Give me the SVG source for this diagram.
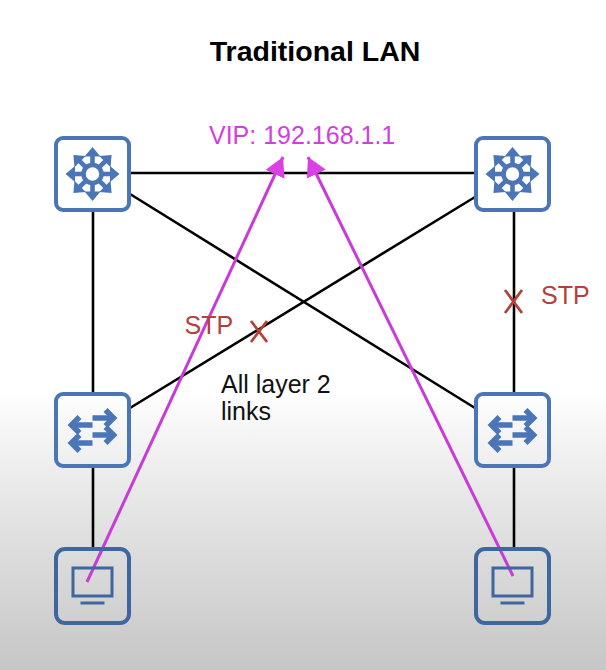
<svg xmlns="http://www.w3.org/2000/svg" xmlns:xlink="http://www.w3.org/1999/xlink" width="606" height="670" viewBox="0 0 606 670">
<style>
text{font-family:"Liberation Sans",Arial,sans-serif}
.box{fill:none;stroke:#4a76b8;stroke-width:4}
.boxd{fill:none;stroke:#3f669f;stroke-width:4}
.thin{fill:none;stroke:#3f669f;stroke-width:3}
.ic{fill:none;stroke:#4a76b8;stroke-width:4.6}
.sa{fill:none;stroke:#4a76b8;stroke-width:5.6}
.ar{fill:#4a76b8}
.link{stroke:#000;stroke-width:2.6;fill:none}
.vip{stroke:#c93bd8;stroke-width:3;fill:none;marker-end:url(#mh)}
.stp{fill:#b5403a;font-size:25px}
.x{stroke:#b5403a;stroke-width:2.8;fill:none}
</style>
<defs>
<linearGradient id="bg" x1="0" y1="0" x2="0" y2="1"><stop offset="0" stop-color="#fff"/><stop offset=".58" stop-color="#fff"/><stop offset=".75" stop-color="#e6e6e6"/><stop offset="1" stop-color="#c6c6c6"/></linearGradient>
<marker id="mh" markerUnits="userSpaceOnUse" markerWidth="24" markerHeight="24" refX="19" refY="10.500" orient="auto"><path d="M0,0L19,10.500L0,21Z" fill="#dc3fe6"/></marker>
<g id="spoke"><path d="M0,-10V-20" class="ic"/><path d="M-8,-17.500L0,-27L8,-17.500Z" class="ar"/></g>
<g id="core">
<rect x="-36.500" y="-36" width="73" height="72" rx="7" class="box"/>
<circle r="9" class="ic"/>
<use xlink:href="#spoke"/><use xlink:href="#spoke" transform="rotate(45)"/><use xlink:href="#spoke" transform="rotate(90)"/><use xlink:href="#spoke" transform="rotate(135)"/><use xlink:href="#spoke" transform="rotate(180)"/><use xlink:href="#spoke" transform="rotate(225)"/><use xlink:href="#spoke" transform="rotate(270)"/><use xlink:href="#spoke" transform="rotate(315)"/>
</g>
<g id="sw">
<rect x="-36.500" y="-36" width="73" height="72" rx="7" class="box"/>
<path d="M0,-12H19M0,5H19M-19,-5H0M-19,13H0" class="sa"/>
<path d="M13,-20L21,-12L13,-4M13,-3L21,5L13,13M-13,-13L-21,-5L-13,3M-13,5L-21,13L-13,21" class="sa"/>
</g>
<g id="pc">
<rect x="-36.500" y="-37" width="73" height="74" rx="9" class="boxd"/>
<rect x="-19.500" y="-18" width="39" height="28" class="thin"/>
<path d="M-12,17H12" class="thin"/>
</g>
</defs>
<rect id="background" width="606" height="670" fill="url(#bg)"/>
<text x="315" y="61" font-size="28.500" font-weight="700" text-anchor="middle" fill="#000">Traditional LAN</text>
<g id="connectors">
<path class="link" d="M130,173H475"/>
<path class="link" d="M93,211V393"/>
<path class="link" d="M93,468V549"/>
<path class="link" d="M514,211V393"/>
<path class="link" d="M514,468V549"/>
<path class="link" d="M130,194L475,408"/>
<path class="link" d="M475,197L130,408"/>
<path class="vip" d="M87,582L283,157"/>
<path class="vip" d="M513,576L308,157"/>
</g>
<g id="node-core-left"><use xlink:href="#core" x="92.500" y="174"/></g>
<g id="node-core-right"><use xlink:href="#core" x="512.500" y="174"/></g>
<g id="node-switch-left"><use xlink:href="#sw" x="92.500" y="430"/></g>
<g id="node-switch-right"><use xlink:href="#sw" x="512.500" y="430"/></g>
<g id="node-pc-left"><use xlink:href="#pc" x="92.500" y="586"/></g>
<g id="node-pc-right"><use xlink:href="#pc" x="512.500" y="586"/></g>
<text x="209" y="144" font-size="25" fill="#d13fdc">VIP: 192.168.1.1</text>
<text class="stp" x="184.500" y="334">STP</text>
<path class="x" d="M251,321L267,342M267,321L251,342"/>
<text class="stp" x="541" y="304">STP</text>
<path class="x" d="M505,290L522,313M522,290L505,313"/>
<text x="221" y="393" font-size="25" fill="#111">All layer 2</text>
<text x="221" y="420" font-size="25" fill="#111">links</text>
</svg>
